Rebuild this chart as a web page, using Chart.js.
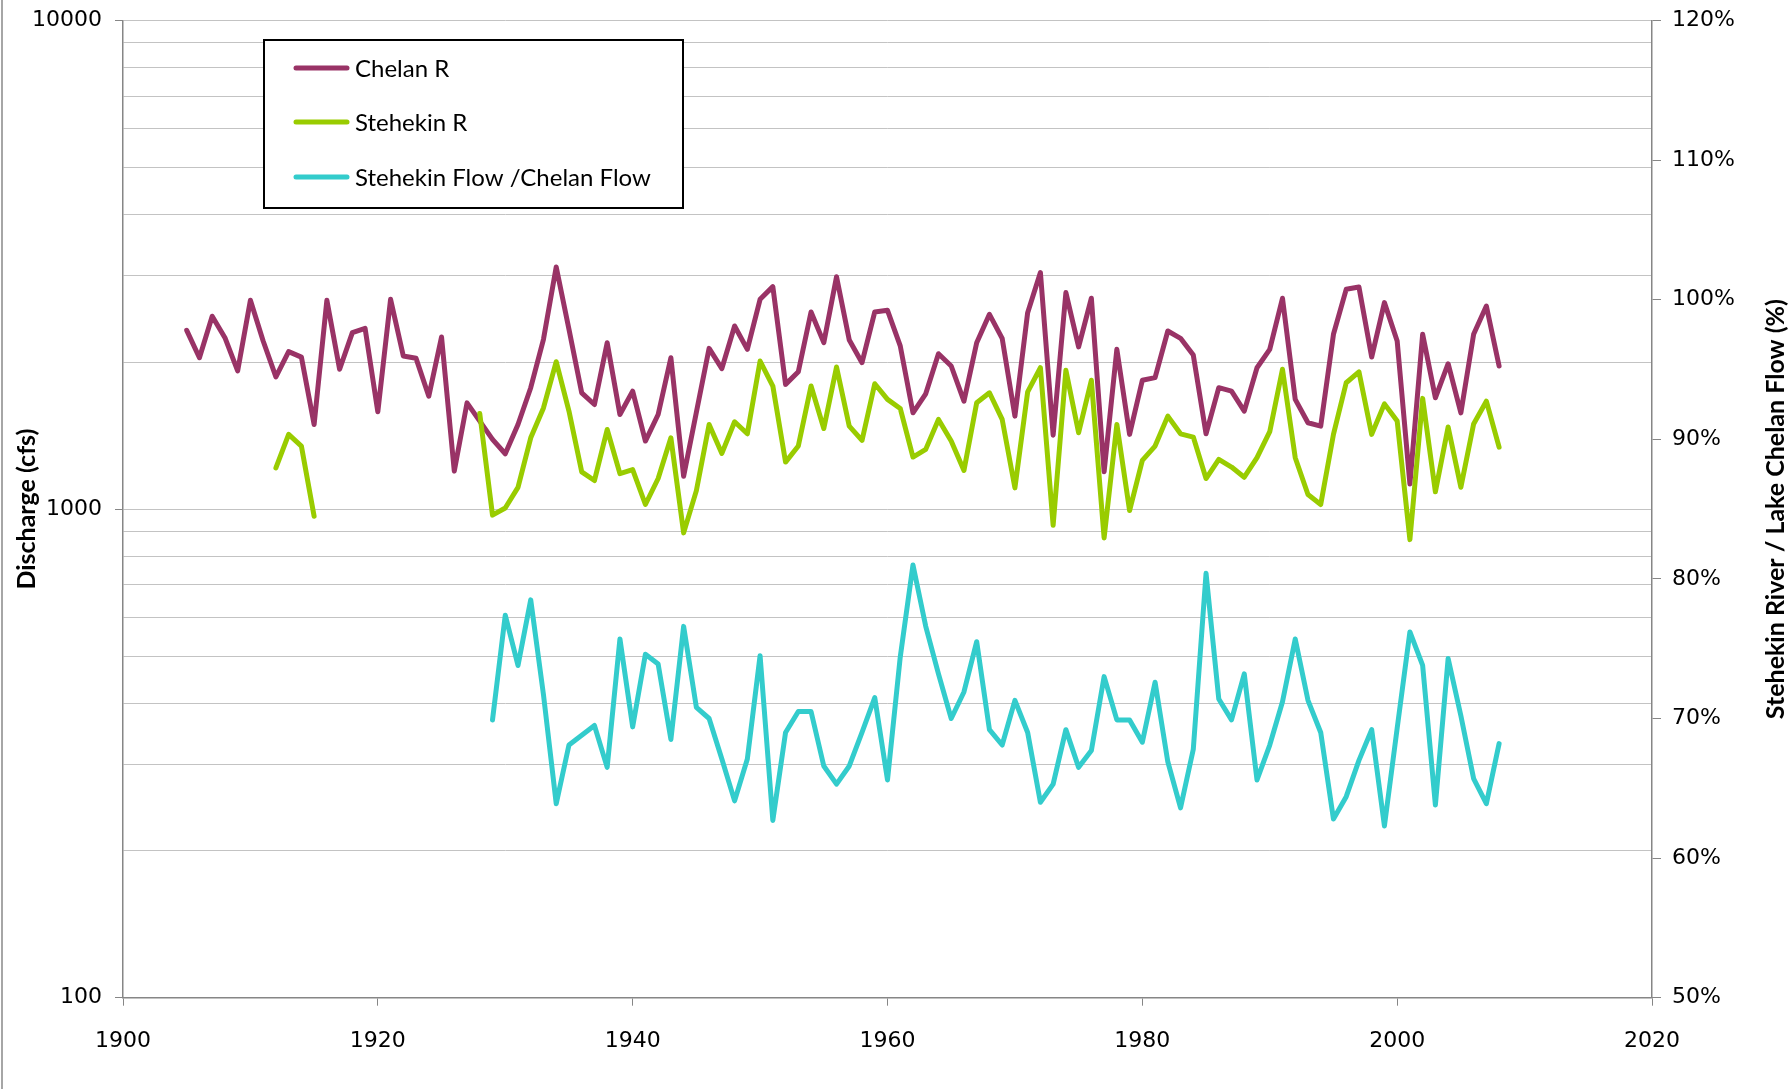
<!DOCTYPE html>
<html><head><meta charset="utf-8">
<script src="https://cdn.jsdelivr.net/npm/chart.js@4/dist/chart.umd.min.js"></script>
<style>html,body{margin:0;padding:0;background:#fff;overflow:hidden}</style>
</head><body>
<canvas id="c" width="1790" height="1089"></canvas>
<script>
// ---- data ----
const chelanStartYear = 1905;
const chelanFlow = [
  2322, 2041, 2482, 2243, 1918, 2675, 2208, 1865, 2100, 2047, // 1905-1914
  1490, 2675, 1933, 2297, 2344, 1582, 2688, 2057, 2035, 1702, // 1915-1924
  2250, 1196, 1650, 1514, 1389, 1298, 1490, 1772, 2226, 3131, // 1925-1934
  2333, 1730, 1637, 2191, 1562, 1744, 1378, 1562, 2041, 1168, // 1935-1944
  1579, 2133, 1939, 2370, 2123, 2688, 2853, 1800, 1910, 2532, // 1945-1954
  2191, 2988, 2219, 1994, 2532, 2552, 2158, 1574, 1722, 2080, // 1955-1964
  1963, 1663, 2191, 2504, 2236, 1550, 2524, 3049, 1417, 2774, // 1965-1974
  2148, 2701, 1192, 2123, 1422, 1835, 1858, 2315, 2236, 2067, // 1975-1984
  1426, 1772, 1744, 1587, 1947, 2123, 2701, 1677, 1502, 1478, // 1985-1994
  2279, 2817, 2848, 2047, 2646, 2208, 1126, 2279, 1690, 1984, // 1995-2004
  1574, 2279, 2604, 1963                                      // 2005-2008
];
const stehekinStartYear = 1912;
const stehekinFlow = [
  1214, 1422, 1346, 967,                                      // 1912-1915
  null, null, null, null, null, null, null, null, null, null, null, null, // 1916-1927
  1569, 972, 1005, 1108, 1399, 1611, 2003, 1587, 1192, 1144,  // 1928-1937
  1455, 1182, 1205, 1022, 1155, 1399, 894, 1091, 1490, 1300,  // 1938-1947
  1509, 1426, 2009, 1786, 1248, 1346, 1786, 1462, 1954, 1478, // 1948-1957
  1382, 1805, 1677, 1607, 1278, 1325, 1526, 1378, 1200, 1650, // 1958-1967
  1730, 1526, 1105, 1738, 1947, 927, 1924, 1433, 1835, 873,   // 1968-1977
  1490, 993, 1258, 1346, 1550, 1426, 1404, 1155, 1264, 1219,  // 1978-1987
  1162, 1274, 1440, 1933, 1274, 1071, 1022, 1422, 1814, 1910, // 1988-1997
  1422, 1642, 1514, 866, 1685, 1085, 1472, 1108, 1494, 1663,  // 1998-2007
  1339                                                        // 2008
];
const ratioStartYear = 1929;
const ratioPct = [
  69.9, 77.4, 73.8, 78.5, 71.7, 63.9, 68.1, 68.8, 69.5, 66.5, // 1929-1938
  75.7, 69.4, 74.6, 73.9, 68.5, 76.6, 70.8, 70.0, 67.1, 64.1, // 1939-1948
  67.1, 74.5, 62.7, 69.0, 70.5, 70.5, 66.6, 65.3, 66.6, 69.0, // 1949-1958
  71.5, 65.6, 74.4, 81.0, 76.6, 73.2, 70.0, 71.9, 75.5, 69.2, // 1959-1968
  68.1, 71.3, 69.0, 64.0, 65.3, 69.2, 66.5, 67.7, 73.0, 69.9, // 1969-1978
  69.9, 68.3, 72.6, 66.9, 63.6, 67.8, 80.4, 71.4, 69.9, 73.2, // 1979-1988
  65.6, 68.1, 71.2, 75.7, 71.3, 69.0, 62.8, 64.4, 67.0, 69.2, // 1989-1998
  62.3, 69.3, 76.2, 73.8, 63.8, 74.3, 70.2, 65.7, 63.9, 68.2  // 1999-2008
];
const seriesNames = ['Chelan R', 'Stehekin R', 'Stehekin Flow /Chelan Flow'];
const xTickValues = [1900, 1920, 1940, 1960, 1980, 2000, 2020];
const leftTickLabels = [100, 1000, 10000];
const rightTickValues = [50, 60, 70, 80, 90, 100, 110, 120];
const leftTitle = 'Discharge (cfs)';
const rightTitle = 'Stehekin River / Lake Chelan Flow (%)';

// ---- helpers ----
const toPoints = (start, arr) => arr.map((v, i) => ({x: start + i, y: v}));
const leftGridValues = [];
for (let d = 100; d < 10000; d *= 10) for (let m = 1; m < 10; m++) leftGridValues.push(d * m);
leftGridValues.push(10000);

const AXIS = '#868686';
const GRID = '#c3c3c3';
const TICKFONT = {family: 'DejaVu Sans', size: 22};

const zeroPad = s => { s.paddingTop = 0; s.paddingBottom = 0; s.paddingLeft = 0; s.paddingRight = 0; };

const framePlugin = {
  id: 'frame',
  beforeDraw(chart) {
    const ctx = chart.ctx;
    ctx.save();
    ctx.fillStyle = '#fff';
    ctx.fillRect(0, 0, chart.width, chart.height);
    ctx.fillStyle = '#a6a6a6';
    ctx.fillRect(1, 0, 2, chart.height);
    ctx.restore();
  }
};

const extrasPlugin = {
  id: 'extras',
  afterDraw(chart) {
    const ctx = chart.ctx;
    const ca = chart.chartArea;
    // right axis title, reading bottom-to-top
    ctx.save();
    ctx.translate(1776, (ca.top + ca.bottom) / 2);
    ctx.rotate(-Math.PI / 2);
    ctx.textAlign = 'center';
    ctx.textBaseline = 'middle';
    ctx.fillStyle = '#000';
    ctx.font = 'bold 25px Lato';
    ctx.fillText(rightTitle, 0, 0);
    ctx.restore();
    // legend box
    const bx = 264, by = 40, bw = 419, bh = 168;
    ctx.save();
    ctx.fillStyle = '#fff';
    ctx.fillRect(bx, by, bw, bh);
    ctx.strokeStyle = '#000';
    ctx.lineWidth = 2;
    ctx.strokeRect(bx, by, bw, bh);
    const rows = [68, 122, 177];
    chart.data.datasets.forEach((ds, i) => {
      const y = rows[i];
      ctx.strokeStyle = ds.borderColor;
      ctx.lineWidth = 5;
      ctx.lineCap = 'round';
      ctx.beginPath();
      ctx.moveTo(296, y);
      ctx.lineTo(347, y);
      ctx.stroke();
      ctx.fillStyle = '#000';
      ctx.font = '24px Lato';
      ctx.textAlign = 'left';
      ctx.textBaseline = 'middle';
      ctx.fillText(ds.label, 355, y + 1);
    });
    ctx.restore();
  }
};

const lineStyle = (color) => ({
  borderColor: color, backgroundColor: color, borderWidth: 5,
  pointRadius: 0, pointHoverRadius: 0, tension: 0, fill: false,
  borderJoinStyle: 'round', borderCapStyle: 'round', spanGaps: false
});

new Chart(document.getElementById('c'), {
  type: 'line',
  data: {
    datasets: [
      Object.assign({label: seriesNames[0], data: toPoints(chelanStartYear, chelanFlow), yAxisID: 'y', order: 3}, lineStyle('#993366')),
      Object.assign({label: seriesNames[1], data: toPoints(stehekinStartYear, stehekinFlow), yAxisID: 'y', order: 2}, lineStyle('#99cc00')),
      Object.assign({label: seriesNames[2], data: toPoints(ratioStartYear, ratioPct), yAxisID: 'y2', order: 1}, lineStyle('#33cccc'))
    ]
  },
  options: {
    responsive: false,
    animation: false,
    devicePixelRatio: 1,
    layout: {padding: {top: 20.5, left: 0, right: 0, bottom: 0}},
    plugins: {legend: {display: false}, tooltip: {enabled: false}, title: {display: false}},
    scales: {
      x: {
        type: 'linear', position: 'bottom', min: 1900, max: 2020,
        afterBuildTicks: s => { s.ticks = xTickValues.map(v => ({value: v})); },
        afterFit: s => { s.height = 91.3; zeroPad(s); },
        ticks: {autoSkip: false, maxRotation: 0, color: '#000', font: TICKFONT, padding: 22, callback: v => String(v)},
        grid: {drawOnChartArea: false, tickLength: 8, tickColor: AXIS, tickWidth: 1},
        border: {color: AXIS, width: 1.5}
      },
      y: {
        type: 'logarithmic', position: 'left', min: 100, max: 10000,
        afterBuildTicks: s => { s.ticks = leftGridValues.map(v => ({value: v})); },
        afterFit: s => { s.width = 123; zeroPad(s); },
        ticks: {autoSkip: false, color: '#000', font: TICKFONT, padding: 13,
          callback: v => leftTickLabels.includes(v) ? String(v) : ''},
        grid: {color: GRID, lineWidth: 1, tickLength: 8, tickWidth: 1,
          tickColor: c => (c.tick && leftTickLabels.includes(c.tick.value)) ? AXIS : 'rgba(0,0,0,0)'},
        border: {color: AXIS, width: 1.5},
        title: {display: true, text: leftTitle, color: '#000',
          font: {family: 'Lato', size: 25, weight: 'bold'}, padding: {top: 12, bottom: 0}}
      },
      y2: {
        type: 'linear', position: 'right', min: 50, max: 120,
        afterBuildTicks: s => { s.ticks = rightTickValues.map(v => ({value: v})); },
        afterFit: s => { s.width = 138; zeroPad(s); },
        ticks: {autoSkip: false, color: '#000', font: TICKFONT, padding: 11, callback: v => v + '%'},
        grid: {drawOnChartArea: false, tickLength: 9, tickColor: AXIS, tickWidth: 1},
        border: {color: AXIS, width: 1.5}
      }
    }
  },
  plugins: [framePlugin, extrasPlugin]
});
</script>
</body></html>
